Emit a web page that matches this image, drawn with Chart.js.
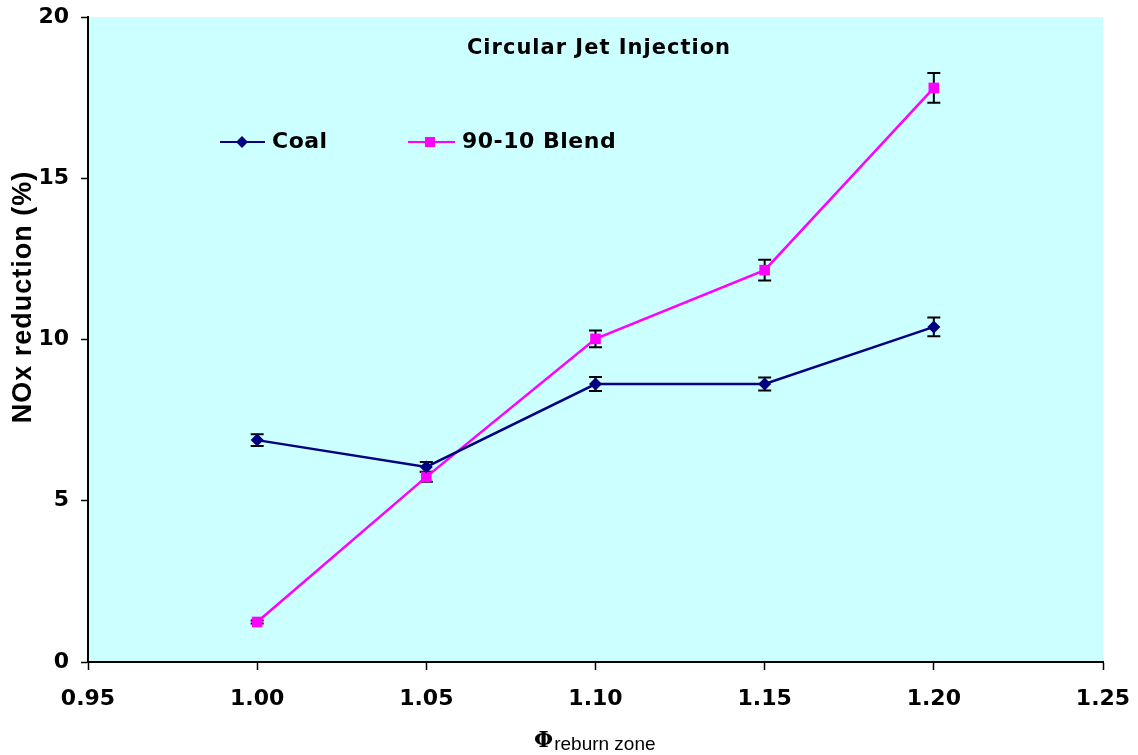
<!DOCTYPE html>
<html><head><meta charset="utf-8">
<script src="https://cdn.jsdelivr.net/npm/chart.js@4/dist/chart.umd.min.js"></script>
<style>html,body{margin:0;padding:0;background:#fff}#wrap{width:1138px;height:755px;position:relative}</style>
</head><body><div id="wrap"><canvas id="c" width="1138" height="755"></canvas></div>
<script>
const phi=[1.00,1.05,1.10,1.15,1.20];
const coal=[6.88,6.05,8.62,8.62,10.39];
const coalErr=[0.18,0.15,0.22,0.20,0.29];
const blend=[1.24,5.74,10.02,12.15,17.80];
const blendErr=[0.05,0.15,0.26,0.32,0.46];
const xTicks=[0.95,1.00,1.05,1.10,1.15,1.20,1.25];
const yTicks=[0,5,10,15,20];
const titleText='Circular Jet Injection';
const seriesNames=['Coal','90-10 Blend'];
const yTitle='NOx reduction (%)';

const NAVY='#000080', MAG='#FF00FF';
const tickFont={family:'DejaVu Sans',weight:'bold',size:22};

const bgPlugin={id:'bg',beforeDraw(ch){const a=ch.chartArea,c=ch.ctx;c.save();c.fillStyle='#CCFFFF';c.fillRect(a.left,a.top,a.right-a.left,a.bottom-a.top);c.restore();}};
const errPlugin={id:'err',beforeDatasetsDraw(ch){
  const c=ch.ctx,xs=ch.scales.x,ys=ch.scales.y;
  c.save();c.strokeStyle='#000';c.lineWidth=2;
  ch.data.datasets.forEach(ds=>{
    ds.data.forEach((p,i)=>{
      const e=ds.err[i];const x=xs.getPixelForValue(p.x);
      const y1=ys.getPixelForValue(p.y+e),y2=ys.getPixelForValue(p.y-e);
      c.beginPath();c.moveTo(x,y1);c.lineTo(x,y2);
      c.moveTo(x-6.5,y1);c.lineTo(x+6.5,y1);c.moveTo(x-6.5,y2);c.lineTo(x+6.5,y2);c.stroke();
    });
  });
  c.restore();}};
const textPlugin={id:'txt',afterDraw(ch){
  const c=ch.ctx;c.save();c.fillStyle='#000';
  c.letterSpacing='1px';
  c.font='bold 21px "DejaVu Sans"';c.textAlign='center';c.textBaseline='middle';
  c.fillText(titleText,599,49);
  // legend
  const items=[{x0:220,x1:265,mx:242,tx:272,col:NAVY,shape:'d',name:seriesNames[0]},
               {x0:408,x1:455,mx:430,tx:462,col:MAG,shape:'s',name:seriesNames[1]}];
  const ly=142;
  items.forEach(it=>{
    c.strokeStyle=it.col;c.lineWidth=2;c.beginPath();c.moveTo(it.x0,ly);c.lineTo(it.x1,ly);c.stroke();
    c.fillStyle=it.col;c.beginPath();
    if(it.shape==='d'){c.moveTo(it.mx,ly-6);c.lineTo(it.mx+6,ly);c.lineTo(it.mx,ly+6);c.lineTo(it.mx-6,ly);c.closePath();}
    else{c.rect(it.mx-5,ly-5,10,10);}
    c.fill();
    c.fillStyle='#000';c.letterSpacing='0.5px';c.font='bold 22px "DejaVu Sans"';c.textAlign='left';c.textBaseline='middle';
    c.fillText(it.name,it.tx,ly);
  });
  // y title
  c.save();c.letterSpacing='1px';c.translate(24,297);c.rotate(-Math.PI/2);c.font='bold 27px "Liberation Sans"';c.textAlign='center';c.textBaseline='middle';c.fillText(yTitle,0,0);c.restore();
  // x title
  c.letterSpacing='0px';
  c.textAlign='left';c.textBaseline='alphabetic';
  c.font='bold 22px "DejaVu Serif"';c.fillText('Φ',534,747);
  const w=c.measureText('Φ').width;
  c.font='19px "Liberation Sans"';c.fillText('reburn zone',534+w+1,750);
  c.restore();}};

new Chart(document.getElementById('c'),{
  type:'line',
  data:{datasets:[
    {label:seriesNames[0],data:phi.map((x,i)=>({x,y:coal[i]})),err:coalErr,borderColor:NAVY,backgroundColor:NAVY,borderWidth:2.5,pointStyle:'rectRot',pointRadius:6.5,pointHoverRadius:6.5,pointBorderWidth:0,tension:0},
    {label:seriesNames[1],data:phi.map((x,i)=>({x,y:blend[i]})),err:blendErr,borderColor:MAG,backgroundColor:MAG,borderWidth:2.5,pointStyle:'rect',pointRadius:7.5,pointHoverRadius:7.5,pointBorderWidth:0,tension:0}
  ]},
  options:{responsive:false,animation:false,events:[],
    layout:{padding:{left:0,top:17,right:35,bottom:0}},
    plugins:{legend:{display:false},title:{display:false},tooltip:{enabled:false}},
    scales:{
      x:{type:'linear',min:0.95,max:1.25,
        afterBuildTicks(s){s.ticks=xTicks.map(v=>({value:v}));},
        afterFit(s){s.height=93;s.paddingLeft=0;s.paddingRight=0;},
        ticks:{callback:v=>v.toFixed(2),color:'#000',font:tickFont,padding:16,maxRotation:0,autoSkip:false},
        grid:{drawOnChartArea:false,drawTicks:true,tickLength:8,tickColor:'#000',tickWidth:1.5},
        border:{display:true,color:'#000',width:2}},
      y:{type:'linear',min:0,max:20,
        afterBuildTicks(s){s.ticks=yTicks.map(v=>({value:v}));},
        afterFit(s){s.width=88;s.paddingTop=0;s.paddingBottom=0;},
        ticks:{color:'#000',font:tickFont,padding:12},
        grid:{drawOnChartArea:false,drawTicks:true,tickLength:7,tickColor:'#000',tickWidth:1.5},
        border:{display:true,color:'#000',width:2}}
    }},
  plugins:[bgPlugin,errPlugin,textPlugin]
});
</script></body></html>
